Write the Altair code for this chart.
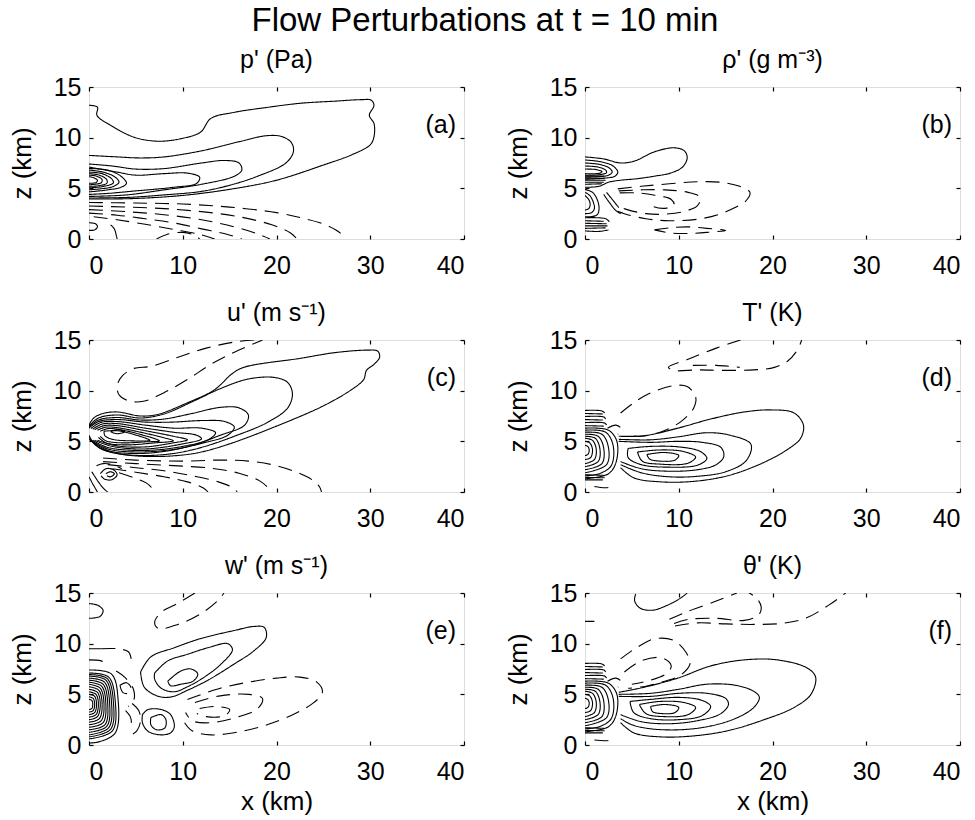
import altair as alt
import pandas as pd

FONT = "Liberation Sans"
X_TICKS = [0, 10, 20, 30, 40]
Z_TICKS = [0, 5, 10, 15]
MAIN_TITLE = "Flow Perturbations at t = 10 min"
PANEL_TITLES = ["p' (Pa)", "ρ' (g m⁻³)", "u' (m s⁻¹)", "T' (K)", "w' (m s⁻¹)", "θ' (K)"]
PANEL_TAGS = ["(a)", "(b)", "(c)", "(d)", "(e)", "(f)"]

# ---------------- panel (a) p' ----------------
A_POS = [
    [(0,13.2),(0.9,13.0),(0.85,12.2),(2.35,11.2),(4.8,10.05),(7.3,9.65),(9.8,9.9),(11.9,10.55),(13.0,11.9),(15.5,12.5),(19.1,13.0),(22.6,13.4),(26.2,13.6),(29.0,13.75),(30.1,13.7),(30.4,13.2),(29.9,12.2),(30.4,11.4),(30.4,10.1),(30.0,9.3),(28,8.3),(25,7.3),(20,5.8),(15,4.9),(10,4.3),(5,4.0),(2,3.95),(0,3.95)],
    [(0,8.25),(3,8.1),(5.5,8.0),(8,8.1),(12,8.7),(16,9.6),(19,10.2),(20.6,10.1),(21.6,9.5),(21.8,8.6),(21,7.5),(18,6.2),(15,5.3),(12,4.7),(8,4.35),(4,4.1),(0,4.05)],
    [(0,7.4),(2.5,7.2),(5,6.9),(8,6.95),(12,7.5),(14.5,7.75),(16,7.5),(16.3,6.8),(15.5,6.2),(12,5.4),(8,4.85),(4,4.35),(0,4.2)],
    [(0,7.1),(3,6.6),(5,6.3),(8,6.45),(10.5,6.5),(11.8,6.1),(11.5,5.5),(9,5.1),(5,4.75),(2,4.5),(0,4.4)],
    [(0,6.95),(2,6.8),(3.4,6.2),(4.0,5.5),(3.4,5.1),(2,4.85),(0,4.65)],
    [(0,6.8),(1.5,6.6),(2.8,6.1),(3.2,5.6),(2.5,5.15),(1.2,4.95),(0,4.85)],
    [(0,6.6),(1.4,6.45),(2.4,5.95),(2.6,5.55),(1.6,5.2),(0,5.05)],
    [(0,6.45),(1.1,6.3),(1.9,5.85),(1.9,5.5),(1.0,5.25),(0,5.2)],
    [(0,6.3),(0.8,6.2),(1.4,5.85),(1.3,5.55),(0.6,5.4),(0,5.35)],
    [(0,6.15),(0.5,6.05),(0.9,5.8),(0.8,5.6),(0.3,5.5),(0,5.5)],
    [(2.3,1.4),(2.7,1.0),(2.9,0.4),(3.0,0)],
    [(0,1.6),(0.7,1.5),(0.9,1.2),(0.6,0.9),(0,0.85)],
]
A_NEG = [
    [(0,3.6),(5,3.55),(10,3.45),(15,3.15),(20,2.6),(23,2.0),(25.5,1.3),(26.9,0.5),(27.2,0)],
    [(0,3.25),(4,3.15),(8,3.0),(12,2.7),(16,2.2),(19.5,1.4),(21.5,0.6),(22.2,0)],
    [(0,2.9),(4,2.7),(8,2.4),(12,1.9),(15.5,1.2),(18,0.5),(19.3,0)],
    [(0,2.55),(3,2.35),(6,2.0),(9,1.6),(12,1.0),(14.8,0.45),(16.3,0)],
    [(0.5,2.2),(3,1.9),(6,1.45),(9,0.95),(11.8,0.45),(13.4,0)],
    [(7.2,0),(8.3,0.45),(10,0.65),(11.3,0.35),(11.8,0)],
]

# ---------------- panel (b) rho' ----------------
B_POS = [
    [(0,8.1),(2.0,7.9),(3.8,7.5),(5.3,7.7),(7.4,8.6),(9.5,9.0),(10.6,8.7),(10.9,8.0),(10.4,7.1),(9.1,6.5),(7.4,6.2),(5.6,5.95),(3.8,5.8),(2.5,5.6),(1.5,5.2),(0,5.1)],
    [(0,7.8),(1.8,7.6),(3.0,7.2),(3.5,6.6),(3.2,6.2),(2.0,6.0),(0,5.9)],
    [(0,7.5),(1.6,7.35),(2.6,7.0),(2.9,6.6),(2.5,6.3),(1.5,6.15),(0,6.1)],
    [(0,7.2),(1.4,7.1),(2.2,6.8),(2.3,6.55),(1.6,6.35),(0,6.3)],
    [(0,6.9),(1.2,6.85),(1.8,6.65),(1.6,6.5),(0,6.45)],
    [(0,6.2),(2.0,6.2)], [(0,6.0),(2.1,6.0)], [(0,5.8),(2.2,5.8)], [(0,5.6),(2.0,5.6)], [(0,5.4),(1.8,5.45)],
    [(0,4.9),(0.8,4.6),(1.3,3.9),(1.5,3.0),(1.3,2.4),(0.6,2.2),(0,2.2)],
    [(0,4.6),(0.5,4.3),(0.9,3.6),(1.0,3.0),(0.7,2.6),(0,2.5)],
    [(0,4.3),(0.4,3.9),(0.55,3.4),(0.4,3.0),(0,2.85)],
    [(2.0,4.4),(2.6,3.6),(3.3,2.8),(3.8,2.5)],
    [(2.3,4.6),(3.0,3.8),(3.6,3.1)],
    [(0,2.1),(2.2,2.0),(2.6,1.7)], [(0,1.8),(2.0,1.75)], [(0,1.55),(2.3,1.5)],
    [(0,1.3),(2.4,1.3)], [(0,1.05),(2.2,1.1)], [(0,0.8),(1.5,0.75),(2.5,0.9)],
]
B_NEG = [
    [(3.5,4.95),(6,5.2),(9,5.45),(12,5.65),(14.5,5.6),(16.5,5.2),(17.6,4.6),(17.2,3.8),(16,3.1),(14.2,2.4),(12,1.95),(9,1.8),(6.5,2.0),(4.2,2.5),(3.0,2.9)],
    [(3.6,4.75),(6,4.85),(8.5,4.85),(11,4.6),(12.3,4.1),(12.0,3.3),(10.5,2.7),(8.5,2.45),(6.5,2.5),(4.5,2.9),(3.3,3.3)],
    [(3.7,4.55),(5.5,4.55),(7.3,4.35),(9.2,3.9),(9.5,3.35),(8.7,3.05),(7.3,3.2),(6.7,3.6)],
    [(7.4,0.9),(9,1.1),(11,1.2),(13,1.05),(15.0,0.85),(13,0.65),(11,0.55),(9,0.6),(7.4,0.9)],
]

# ---------------- panel (c) u' ----------------
C_POS = [
    [(0,6.6),(0.5,7.3),(1.5,7.75),(3,7.9),(5.5,7.5),(7.3,7.65),(10.5,8.8),(13.4,10.1),(15.3,11.7),(16.5,12.3),(22.6,13.2),(26.2,13.75),(29.7,14.0),(30.8,13.9),(31.0,13.3),(30.4,12.6),(29.6,12.0),(29.3,11.1),(28,10.1),(25,8.5),(20,6.5),(15,4.75),(12,3.95),(10,3.65),(7,3.5),(4,3.65),(2,4.05),(0.6,4.7),(0,5.6)],
    [(0,6.5),(1,7.3),(3,7.6),(5.5,7.3),(8,7.7),(11,8.9),(14,10.2),(17,11.15),(19.8,11.3),(21.2,10.8),(21.7,9.7),(21.2,8.3),(19.1,6.9),(15.5,5.5),(12,4.4),(9,3.8),(6,3.6),(3,3.8),(1.2,4.3),(0,5.4)],
    [(0,6.4),(1,7.1),(3,7.35),(5.5,7.1),(8,7.2),(11,7.75),(14,8.35),(16,8.3),(17,7.6),(16.6,6.6),(14,5.6),(11,4.6),(8,4.0),(5,3.8),(2,4.1),(0,5.2)],
    [(0,6.3),(1,6.95),(3,7.15),(6,6.9),(9,6.9),(12,7.05),(14.5,6.95),(15.5,6.4),(14.8,5.6),(12,4.8),(9,4.2),(5,3.95),(2,4.25),(0.2,5.1)],
    [(0.2,6.25),(1.2,6.85),(3,6.95),(6,6.6),(9,6.3),(12,6.3),(13.5,5.85),(12.8,5.2),(10,4.5),(6,4.1),(2,4.4),(0.4,5.1)],
    [(0.4,6.2),(1.4,6.7),(3,6.75),(6,6.3),(9,5.9),(11.5,5.6),(12,5.25),(10,4.75),(6,4.25),(2.5,4.5),(0.6,5.1)],
    [(0.6,6.15),(1.6,6.55),(3,6.55),(6,6.05),(9,5.5),(10.5,5.15),(9,4.85),(6,4.45),(3,4.55),(0.9,5.1)],
    [(0.9,6.1),(1.8,6.4),(3,6.35),(5,6.0),(8,5.35),(9,5.05),(7,4.85),(4,4.65),(1.8,4.85),(1.0,5.4)],
    [(1.2,6.0),(2,6.25),(3,6.2),(5,5.8),(7.5,5.05),(6,4.95),(3.5,4.85),(1.8,5.05),(1.2,5.5)],
    [(1.6,6.0),(3,6.05),(4.5,5.75),(6.5,5.1),(4.5,5.05),(2.5,5.2),(1.7,5.55),(1.6,6.0)],
    [(2.3,5.95),(3.0,6.15),(3.8,5.95),(3.0,5.75),(2.3,5.95)],
    [(1.2,1.8),(1.8,2.3),(2.6,2.2),(3.0,1.7),(2.4,1.2),(1.6,1.3),(1.3,1.6)],
    [(1.8,1.8),(2.3,2.0),(2.7,1.8),(2.3,1.5),(1.9,1.6)],
    [(0,1.5),(0.4,0.8),(0.9,0)],
    [(0.3,2.0),(1.0,1.0),(1.6,0.3),(2.0,0)],
]
C_NEG = [
    [(17.6,15),(15.5,14.8),(12.5,14.2),(9.5,13.3),(6.6,12.4),(4.8,12.2),(3.6,11.5),(3.0,10.5),(3.2,9.6),(4.2,9.0),(5.8,8.95),(8,9.8),(10.5,11.1),(13,12.6),(15.5,13.8),(18,14.8),(18.5,15)],
    [(1.5,3.35),(5,3.15),(10,3.05),(14,3.15),(17,3.05),(19.5,2.7),(22,2.0),(23.8,1.2),(24.6,0.5),(24.8,0)],
    [(1.5,3.0),(5,2.8),(9,2.6),(13,2.35),(16,1.85),(18.2,1.1),(19.2,0.3),(19.3,0)],
    [(2,2.7),(5,2.4),(8,2.1),(11,1.6),(13.8,1.0),(15.4,0.4),(15.8,0)],
    [(2.5,2.3),(5,1.95),(8,1.5),(10.5,1.0),(12.2,0.4),(12.7,0)],
    [(3.2,1.9),(4.8,1.4),(6.1,0.9),(6.7,0.4),(6.9,0)],
    [(0.8,2.6),(1.5,2.8),(2.5,2.7),(3.5,2.3)],
]

# ---------------- panels (d) T' and (f) theta': left-edge cluster ----------------
DF_CLUSTER = [
    [(0,4.6),(0.3,4.5),(0.45,4.1),(0.3,3.7),(0,3.6)],
    [(0,5.0),(0.5,4.85),(0.8,4.2),(0.6,3.4),(0,3.2)],
    [(0,5.3),(0.8,5.1),(1.2,4.2),(1.0,3.2),(0,2.8)],
    [(0,5.5),(1.1,5.3),(1.6,4.2),(1.4,3.0),(0,2.5)],
    [(0,5.7),(1.4,5.5),(2.0,4.3),(1.8,2.8),(0,2.2)],
    [(0,5.9),(1.8,5.7),(2.5,4.4),(2.3,2.7),(0,1.9)],
    [(0,6.1),(2.2,5.9),(3.0,4.6),(2.8,2.6),(1.5,1.8),(0,1.6)],
    [(0,6.3),(2.5,6.1),(3.4,5.0),(3.3,2.9),(2.5,1.8),(0,1.3)],
    [(0,8.05),(1.8,8.0),(2.1,7.8)], [(0,7.75),(1.9,7.7)], [(0,7.45),(2.0,7.4),(2.2,7.2)],
    [(0,7.15),(1.9,7.1)], [(0,6.85),(2.1,6.8),(2.3,6.6)], [(0,6.55),(2.0,6.5)],
    [(0,1.7),(2.0,1.65)], [(0,1.45),(2.1,1.4)], [(0,1.2),(1.9,1.2)],
]

D_POS = [
    [(3.6,5.5),(6.3,5.55),(9.9,6.3),(13.4,7.2),(17,7.9),(19.8,8.1),(22.3,7.8),(23.3,6.6),(23.0,5.3),(21.6,4.2),(18.8,2.8),(15.2,1.6),(11.6,1.05),(8.1,1.0),(5.2,1.4),(3.8,2.4)],
    [(3.6,5.2),(7,5.15),(10,5.45),(13,5.85),(15.5,5.6),(17.7,4.7),(17.2,3.1),(15,2.0),(12,1.55),(9,1.5),(6,1.9),(3.8,2.7)],
    [(3.6,5.0),(7,4.9),(10,5.0),(12.5,4.9),(14.5,4.4),(14.8,3.5),(14,2.7),(12,2.2),(9,2.05),(6,2.3),(3.8,3.0)],
    [(4.6,4.3),(7,4.5),(10,4.45),(12.3,4.0),(13.0,3.3),(12,2.65),(9,2.45),(6,2.7),(4.6,3.4),(4.6,4.3)],
    [(5.6,3.95),(8,4.15),(10.5,4.0),(11.8,3.45),(11,2.85),(8,2.75),(6.1,3.05),(5.6,3.95)],
    [(6.6,3.7),(8.5,3.9),(10,3.6),(9.6,3.15),(8,3.05),(6.9,3.25),(6.6,3.7)],
] + DF_CLUSTER
D_NEG = [
    [(3.8,7.8),(5.2,8.8),(6.8,9.7),(9.5,10.5),(10.9,10.4),(11.8,9.4),(11.6,8.3),(10.3,7.0),(8.3,6.0),(6.0,5.5),(4.6,5.6)],
    [(16.6,15),(14,14.2),(11,13.1),(8.9,12.3),(9.5,12.0),(12,12.05),(15,12.0),(18,12.05),(20.2,12.3),(21.6,12.9),(22.5,13.8),(23.0,14.7),(23.1,15)],
    [(11.5,12.5),(14,12.5),(16.5,12.3)],
    [(1.0,0.55),(2.5,0.45),(3.2,0.8)],
    [(2.4,6.3),(3.3,6.6),(3.9,6.2),(3.5,5.7)],
]

# ---------------- panel (e) w' ----------------
E_POS = [
    [(0,13.95),(0.9,13.8),(1.5,13.3),(1.2,12.7),(0,12.5)],
    [(0,9.5),(1.3,9.5)],
    [(5.5,7.2),(6.6,8.7),(9.1,9.6),(11.9,10.5),(15.5,11.3),(17.6,11.7),(18.7,11.6),(18.9,10.6),(17.6,9.3),(15.5,8.0),(12.7,6.4),(10.5,5.4),(8.8,4.75),(7.4,4.8),(5.9,5.7),(5.5,7.2)],
    [(7.0,7.1),(8.4,8.3),(10.5,8.95),(12.7,9.6),(14.8,10.0),(15.3,9.4),(14.1,8.0),(12.3,6.7),(10.5,5.75),(9.1,5.25),(7.7,5.6),(7.0,6.5),(7.0,7.1)],
    [(8.4,6.3),(9.8,7.3),(10.9,7.5),(11.6,7.0),(11.1,6.3),(9.8,6.0),(8.7,5.85),(8.4,6.3)],
    [(5.7,3.0),(6.3,3.5),(7.7,3.5),(8.7,3.0),(9.1,1.8),(8.7,1.2),(7.7,1.0),(6.3,1.35),(5.7,2.2),(5.7,3.0)],
    [(6.6,2.7),(7.7,3.0),(8.2,2.5),(8.1,1.7),(7.2,1.5),(6.6,2.0),(6.6,2.7)],
    [(0,4.5),(0.3,4.4),(0.4,4.0),(0.3,3.6),(0,3.5)],
    [(0,4.75),(0.45,4.6),(0.6,4.0),(0.45,3.4),(0,3.25)],
    [(0,5.0),(0.6,4.8),(0.8,4.0),(0.6,3.2),(0,3.0)],
    [(0,5.25),(0.75,5.0),(1.0,4.0),(0.75,3.0),(0,2.75)],
    [(0,5.5),(0.9,5.2),(1.2,4.0),(0.9,2.8),(0,2.5)],
    [(0,5.75),(1.05,5.4),(1.4,4.0),(1.1,2.6),(0,2.25)],
    [(0,6.0),(1.2,5.6),(1.6,4.0),(1.3,2.4),(0,2.0)],
    [(0,6.2),(1.35,5.8),(1.8,4.0),(1.5,2.2),(0,1.75)],
    [(0,6.4),(1.5,6.0),(2.0,4.0),(1.7,2.0),(0,1.5)],
    [(0,6.6),(1.65,6.2),(2.2,4.1),(1.9,1.85),(0,1.25)],
    [(0,6.8),(1.8,6.4),(2.4,4.2),(2.1,1.7),(0,1.0)],
    [(0,6.95),(1.95,6.55),(2.6,4.25),(2.3,1.55),(0,0.8)],
    [(0,7.1),(2.1,6.7),(2.8,4.3),(2.5,1.4),(0,0.6)],
    [(0,7.4),(2.4,7.0),(3.1,4.5),(2.8,1.2),(1.0,0.3),(0,0.2)],
]
E_NEG = [
    [(11.3,15),(9.5,14.0),(7.7,13.1),(7.0,12.1),(7.4,11.5),(9.5,11.9),(12,13.0),(13.8,14.3),(14.4,15)],
    [(1.3,9.5),(3.0,9.5),(4.2,9.2),(4.5,8.5)],
    [(10.5,4.5),(14,5.6),(17,6.2),(20,6.6),(22.5,6.7),(24.3,6.2),(24.9,5.2),(24,4.2),(22,3.1),(19,2.0),(16,1.3),(13,1.0),(11,1.4),(10.2,2.2)],
    [(11.3,4.2),(14,4.85),(17,5.0),(18.5,4.6),(18,3.6),(16,2.8),(13,2.2),(11,2.4),(10.3,3.2)],
    [(11.8,3.6),(13.5,3.8),(15,3.5),(14.5,2.9),(12.5,2.8),(11.5,3.1)],
    [(3.3,5.9),(4.0,6.15),(4.5,5.6),(4.2,5.1),(3.6,5.2),(3.3,5.9)],
    [(2.9,7.3),(3.8,6.7),(4.7,5.6),(4.8,4.5),(4.2,3.8)],
    [(4.6,4.1),(5.3,3.4),(5.5,2.4),(5.1,1.4),(4.3,0.9)],
    [(3.9,3.4),(4.4,2.8),(4.5,2.1),(4.1,1.5)],
    [(0,8.4),(1.3,8.3),(2.2,7.9)],
]

# ---------------- panel (f) theta' ----------------
F_POS = [
    [(3.6,5.2),(6.3,5.7),(9.9,6.6),(13.4,7.8),(17,8.4),(20.5,8.4),(23.7,7.6),(24.6,6.7),(24.1,5.0),(22.3,3.7),(18.8,2.4),(15.2,1.4),(11.6,0.9),(8.1,0.8),(5.2,1.2),(3.8,2.2)],
    [(3.6,5.0),(7,5.1),(10,5.5),(13,6.0),(16,5.9),(18,5.3),(18.6,4.7),(18,3.7),(16,2.6),(13,1.8),(10,1.5),(7,1.6),(5,2.0),(3.8,2.6)],
    [(3.6,4.8),(7,4.8),(10,5.1),(13,5.1),(15,4.6),(15.3,4.0),(14.5,3.1),(12,2.4),(9,2.1),(6,2.3),(3.8,3.0)],
    [(4.8,4.3),(7,4.5),(10,4.7),(12.5,4.4),(13.4,3.8),(12.5,2.9),(10,2.5),(7,2.6),(5.2,3.2),(4.8,4.3)],
    [(5.8,4.0),(8,4.3),(10.5,4.2),(11.8,3.7),(11,3.0),(8.5,2.8),(6.5,3.1),(5.8,4.0)],
    [(7,3.8),(8.5,4.0),(10,3.7),(9.6,3.2),(8.2,3.1),(7.2,3.3),(7,3.8)],
    [(5.4,14.9),(5.3,14.2),(5.9,13.5),(7.2,13.3),(8.8,13.8),(10.2,14.5),(10.9,15)],
    [(0,12.2),(1.0,12.2)],
] + DF_CLUSTER
F_NEG = [
    [(3.8,8.5),(5.5,9.6),(7.5,10.5),(9.5,10.3),(10.8,9.1),(11.2,8.0),(10.2,6.9),(8.5,6.3),(6.5,5.8),(4.6,5.6)],
    [(4.2,7.2),(6,8.3),(8.2,8.6),(9.2,7.8),(8.6,7.0),(6.8,6.35),(5,6.0)],
    [(9.5,12.0),(11,12.4),(14,12.5),(17,12.3),(18.5,12.8),(18.8,13.6),(18.3,14.5),(17.5,15)],
    [(9.6,11.75),(12,12.05),(15,11.95),(18,11.9),(21,12.0),(23.5,12.5),(26,13.8),(27.8,15)],
    [(9.0,12.4),(11,13.2),(14,14.2),(16.2,15)],
    [(1.0,0.5),(2.5,0.45),(3.0,0.7)],
    [(2.4,6.3),(3.3,6.6),(3.9,6.2),(3.5,5.7)],
]

PANEL_DATA = [(A_POS, A_NEG), (B_POS, B_NEG), (C_POS, C_NEG),
              (D_POS, D_NEG), (E_POS, E_NEG), (F_POS, F_NEG)]

W, H = 375, 152


def contour_frame(pos, neg):
    rows = []
    for sign, group in (("pos", pos), ("neg", neg)):
        for ci, pts in enumerate(group):
            for i, (x, z) in enumerate(pts):
                rows.append({"cid": f"{sign}{ci}", "i": i, "x": x, "z": z, "sign": sign})
    return pd.DataFrame(rows)


def panel(k, bottom_row):
    pos, neg = PANEL_DATA[k]
    df = contour_frame(pos, neg)
    xs = alt.Scale(domain=[0, 40], nice=False, zero=False)
    zs = alt.Scale(domain=[0, 15], nice=False, zero=False)
    common = dict(grid=False, domain=False, tickSize=4, offset=-4, tickColor="black",
                  tickWidth=1.2, labelFont=FONT, labelFontSize=25, labelColor="black",
                  titleFont=FONT, titleFontSize=26, titleFontWeight="normal", titleColor="black")
    xaxis = alt.Axis(orient="bottom", values=X_TICKS, labelPadding=14, format="d",
                     title="x (km)" if bottom_row else None, titlePadding=4, **common)
    zaxis = alt.Axis(orient="left", values=Z_TICKS, labelPadding=8, format="d",
                     title="z (km)", titlePadding=18, **common)
    lines = alt.Chart(df).mark_line(color="black", strokeWidth=1.1, interpolate="catmull-rom",
                                    clip=True).encode(
        x=alt.X("x:Q", scale=xs, axis=xaxis),
        y=alt.Y("z:Q", scale=zs, axis=zaxis),
        detail="cid:N",
        order=alt.Order("i:Q"),
        strokeDash=alt.StrokeDash("sign:N", scale=alt.Scale(domain=["pos", "neg"], range=[[1, 0], [14, 8]]),
                                  legend=None),
    )
    mirror = alt.Chart(df).mark_point(opacity=0).encode(
        x=alt.X("x:Q", scale=xs, axis=alt.Axis(orient="top", values=X_TICKS, labels=False, title=None, **common)),
        y=alt.Y("z:Q", scale=zs, axis=alt.Axis(orient="right", values=Z_TICKS, labels=False, title=None, **common)),
    )
    tag = alt.Chart(pd.DataFrame({"t": [PANEL_TAGS[k]]})).mark_text(
        font=FONT, fontSize=25, align="right", baseline="middle", color="black"
    ).encode(text="t:N", x=alt.value(W - 8), y=alt.value(38))
    return alt.layer(lines, mirror, tag).resolve_axis(x="independent", y="independent").properties(
        width=W, height=H,
        title=alt.TitleParams(PANEL_TITLES[k], font=FONT, fontSize=25, fontWeight="normal",
                              color="black", anchor="middle", offset=2),
    )


rows = []
for r in range(3):
    rows.append(alt.hconcat(panel(2 * r, r == 2), panel(2 * r + 1, r == 2), spacing=38))

chart = alt.vconcat(*rows, spacing=21).properties(
    title=alt.TitleParams(MAIN_TITLE, font=FONT, fontSize=33, fontWeight="normal", color="black",
                          anchor="middle", offset=10),
    padding={"left": 8, "top": 4, "right": 5, "bottom": 2},
).configure_view(stroke="black", strokeWidth=1.5).configure(background="white")

chart.save("out.html", embed_options={"renderer": "svg", "actions": False})
